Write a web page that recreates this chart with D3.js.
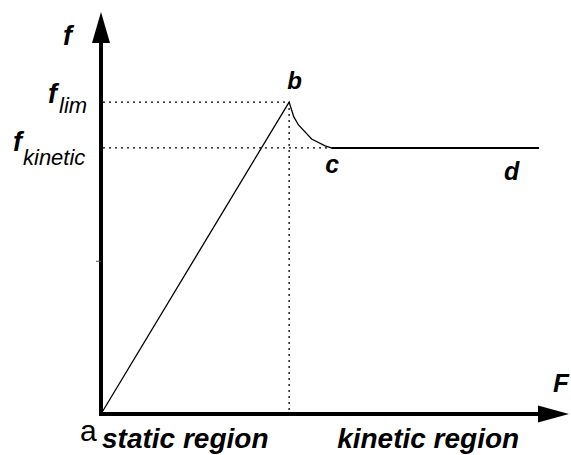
<!DOCTYPE html>
<meta charset="UTF-8">
<style>
body { margin: 0; background: #fff; }
svg { display: block; }
.lbl { font-family: "Liberation Sans", Arial, sans-serif; fill: #000; }
.bi { font-weight: bold; font-style: italic; }
.it { font-style: italic; }
.guide { fill: none; stroke: #000; stroke-width: 1.3px; stroke-dasharray: 2 4; }
</style>
<body>
<script src="https://d3js.org/d3.v7.min.js"></script>
<script>
// applied force F vs friction force f (arbitrary units, 0..100 on both axes)
var forceF    = [0, 40.2, 41.2, 42.2, 45.0, 47.9, 49.2];
var frictionF = [0, 77.6, 73.9, 71.9, 68.4, 66.7, 66.2];
// kinetic plateau c -> d
var plateauF  = [49.2, 93.6];
var fLim = 77.6, fKinetic = 66.2;
var pointNames = ["a", "b", "c", "d"];
var regionNames = ["static region", "kinetic region"];

var width = 571, height = 455;

var x = d3.scaleLinear().domain([0, 100]).range([101, 569]);
var y = d3.scaleLinear().domain([0, 100]).range([414, 12]);

var svg = d3.select("body").append("svg")
    .attr("width", width)
    .attr("height", height);

// dotted guides
svg.append("line").attr("class", "guide")
    .attr("x1", x(0) + 2).attr("x2", x(forceF[1]))
    .attr("y1", y(fLim)).attr("y2", y(fLim));
svg.append("line").attr("class", "guide")
    .attr("x1", x(0) + 2).attr("x2", x(plateauF[0]))
    .attr("y1", y(fKinetic)).attr("y2", y(fKinetic));
svg.append("line").attr("class", "guide")
    .attr("x1", x(forceF[1])).attr("x2", x(forceF[1]))
    .attr("y1", y(fLim)).attr("y2", y(0));

// friction curve a -> b -> c
var line = d3.line()
    .x(function(d) { return x(d[0]); })
    .y(function(d) { return y(d[1]); });

svg.append("path")
    .datum(d3.zip(forceF, frictionF))
    .attr("d", line)
    .attr("fill", "none")
    .attr("stroke", "#000")
    .attr("stroke-width", 1.3);

// c -> d
svg.append("path")
    .datum(plateauF.map(function(v) { return [v, fKinetic]; }))
    .attr("d", line)
    .attr("fill", "none")
    .attr("stroke", "#000")
    .attr("stroke-width", 2);

// axes with arrow heads
var arrowLen = 31, arrowHalf = 9;
svg.append("line")
    .attr("x1", x(0)).attr("y1", y(0))
    .attr("x2", x(0)).attr("y2", y(100) + arrowLen)
    .attr("stroke", "#000").attr("stroke-width", 4);
svg.append("path")
    .attr("d", "M" + x(0) + "," + y(100)
      + "L" + (x(0) + arrowHalf) + "," + (y(100) + arrowLen)
      + "L" + (x(0) - arrowHalf) + "," + (y(100) + arrowLen) + "Z")
    .attr("fill", "#000");
svg.append("line")
    .attr("x1", x(0) - 2).attr("y1", y(0))
    .attr("x2", x(100) - arrowLen).attr("y2", y(0))
    .attr("stroke", "#000").attr("stroke-width", 4);
svg.append("path")
    .attr("d", "M" + x(100) + "," + y(0)
      + "L" + (x(100) - arrowLen) + "," + (y(0) - arrowHalf + 0.5)
      + "L" + (x(100) - arrowLen) + "," + (y(0) + arrowHalf - 0.5) + "Z")
    .attr("fill", "#000");

// small tick on the f axis
svg.append("line")
    .attr("x1", x(0) - 5).attr("x2", x(0))
    .attr("y1", y(38)).attr("y2", y(38))
    .attr("stroke", "#555").attr("stroke-width", 1);

// axis names
svg.append("text").attr("class", "lbl bi")
    .attr("x", x(0) - 38).attr("y", y(91.8))
    .style("font-size", "27px").text("f");
svg.append("text").attr("class", "lbl bi")
    .attr("x", x(100) - 16).attr("y", y(5.5))
    .style("font-size", "26px").text("F");

// f_lim and f_kinetic
var lim = svg.append("text").attr("class", "lbl")
    .attr("x", x(0) - 53).attr("y", y(fLim) + 1);
lim.append("tspan").attr("class", "bi").style("font-size", "27px").text("f");
lim.append("tspan").attr("class", "it").style("font-size", "22px")
    .attr("dx", 2).attr("dy", 10).text("lim");

var kin = svg.append("text").attr("class", "lbl")
    .attr("x", x(0) - 88).attr("y", y(fKinetic) + 3);
kin.append("tspan").attr("class", "bi").style("font-size", "27px").text("f");
kin.append("tspan").attr("class", "it").style("font-size", "22px")
    .attr("dx", 1).attr("dy", 14).text("kinetic");

// point names
svg.append("text").attr("class", "lbl")
    .attr("x", x(0) - 21).attr("y", y(0) + 27)
    .style("font-size", "30px").text(pointNames[0]);
svg.append("text").attr("class", "lbl bi")
    .attr("x", x(forceF[1]) - 2).attr("y", y(fLim) - 13)
    .style("font-size", "24px").text(pointNames[1]);
svg.append("text").attr("class", "lbl bi")
    .attr("x", x(plateauF[0]) - 6).attr("y", y(fKinetic) + 25)
    .style("font-size", "25px").text(pointNames[2]);
svg.append("text").attr("class", "lbl bi")
    .attr("x", x(plateauF[1]) - 35).attr("y", y(fKinetic) + 32)
    .style("font-size", "25px").text(pointNames[3]);

// regions
svg.append("text").attr("class", "lbl bi")
    .attr("x", x(0) + 1).attr("y", y(0) + 34)
    .style("font-size", "28px").text(regionNames[0]);
svg.append("text").attr("class", "lbl bi")
    .attr("x", x(forceF[1]) + 48).attr("y", y(0) + 34)
    .style("font-size", "28px").text(regionNames[1]);
</script>
</body>
